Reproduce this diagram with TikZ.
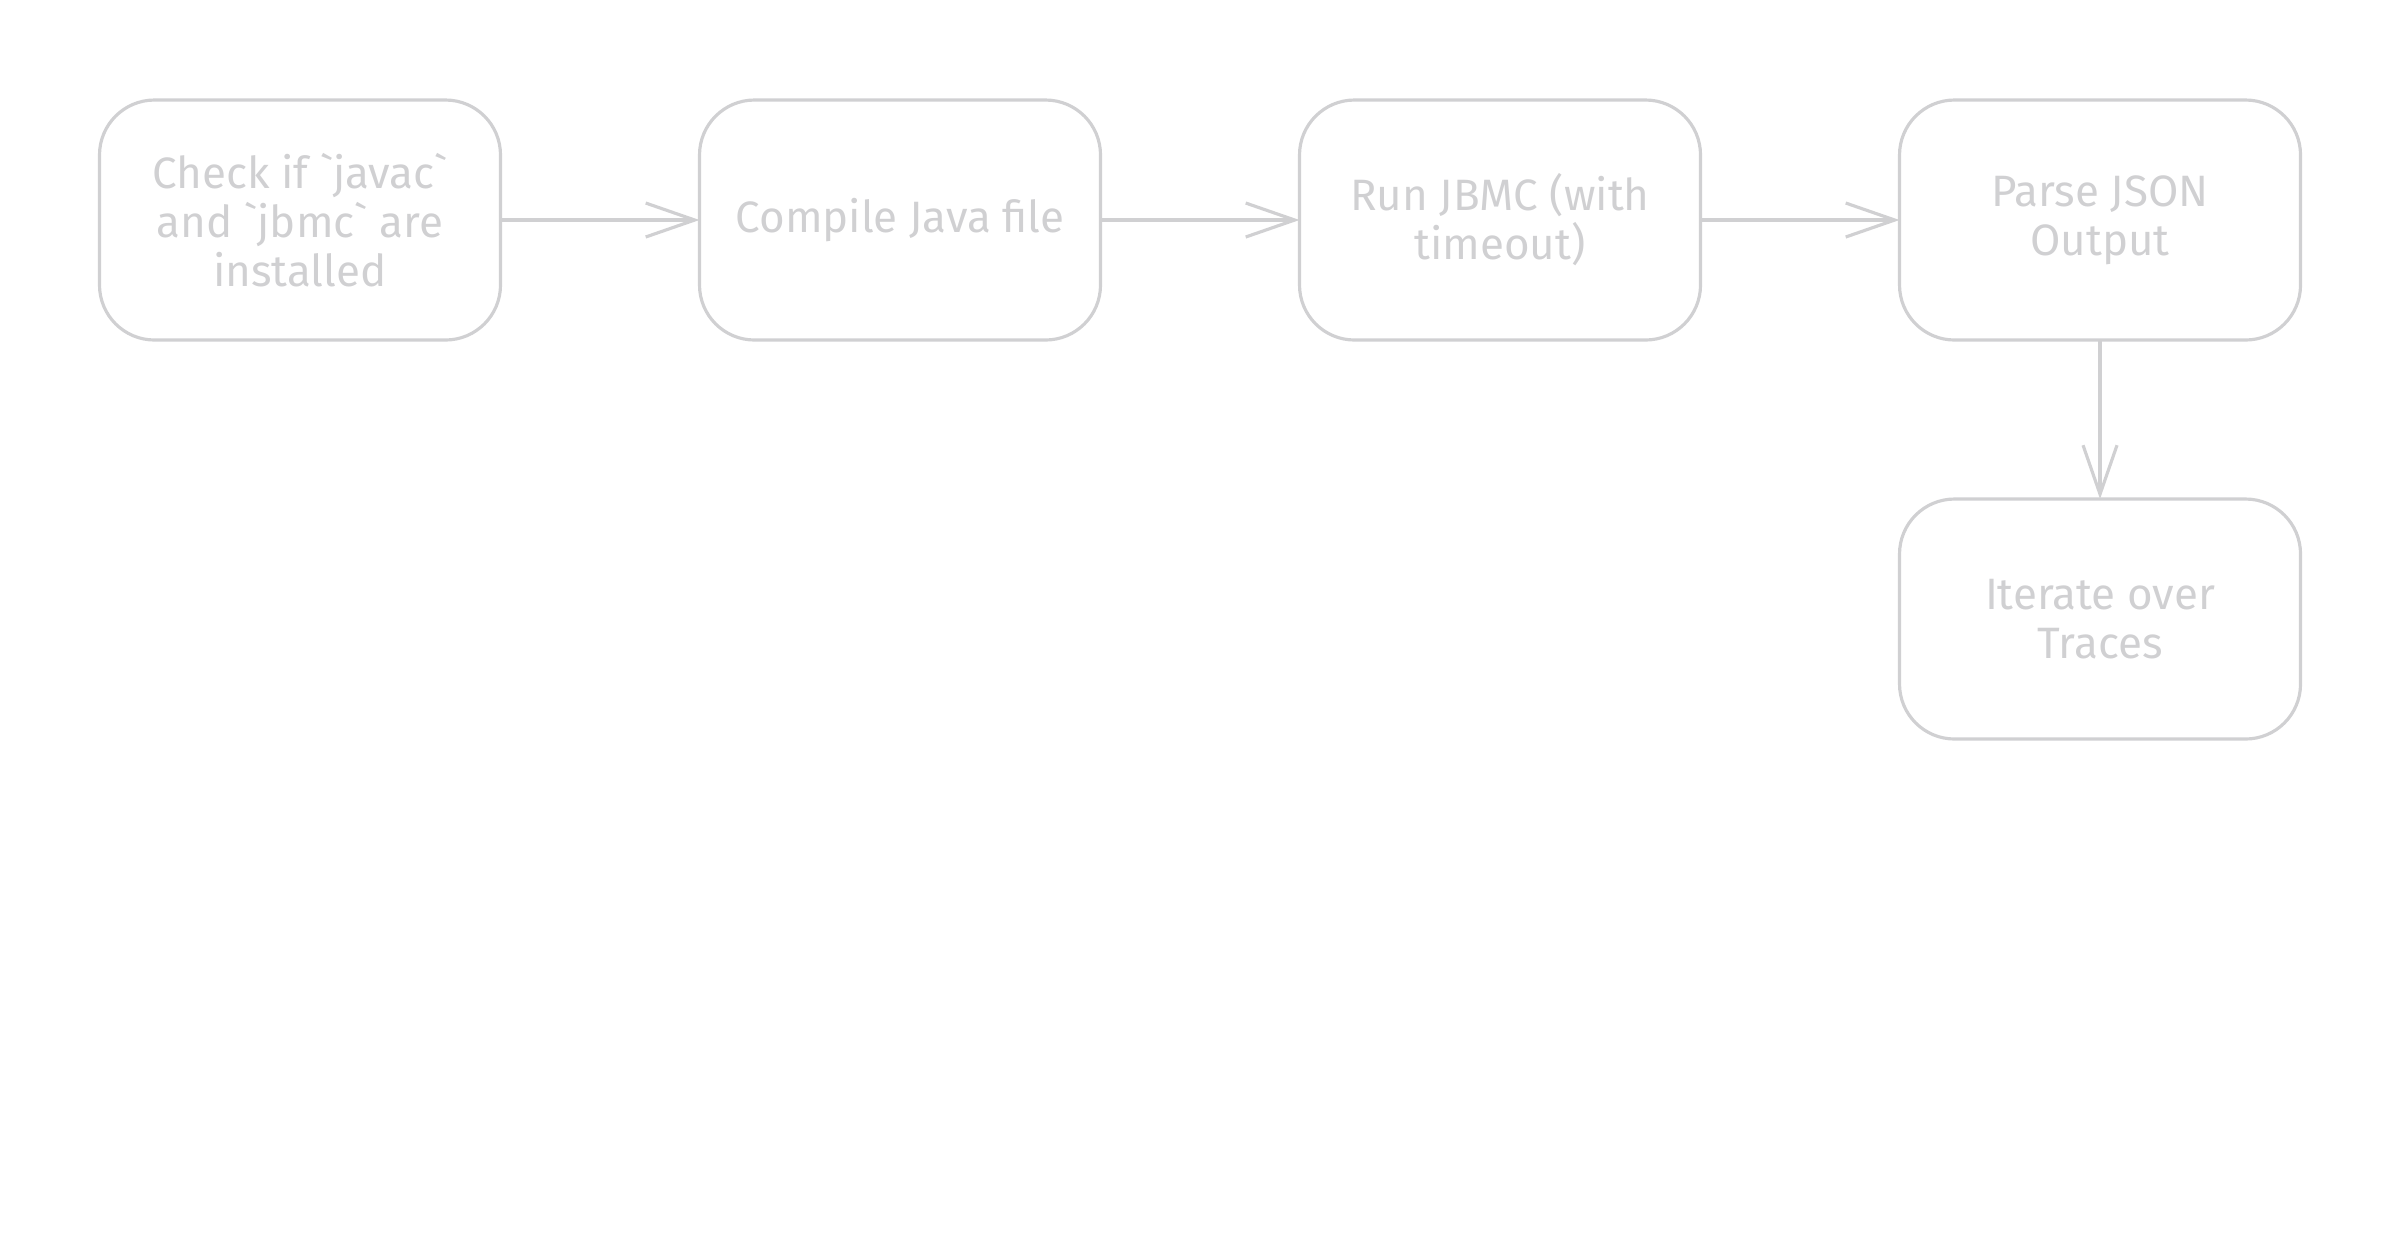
\documentclass[tikz,border=0pt]{standalone}
\usepackage{fontspec}
\setmainfont{Fira Sans}
\usetikzlibrary{positioning,arrows.meta}

\definecolor{sketchgray}{HTML}{D0D0D2}

\tikzset{
    stepbox/.style={draw=sketchgray, line width=0.9pt, rounded corners=0.55cm,
        minimum width=4.01cm, minimum height=2.4cm, inner sep=0pt, outer sep=0pt,
        align=center, text=sketchgray, font=\fontsize{12.5}{14}\selectfont},
    flow/.style={draw=sketchgray, line width=0.9pt,
        -{Straight Barb[length=0.49cm, width=0.34cm, line width=0.9pt]}}
}

\begin{document}
\begin{tikzpicture}
    \useasboundingbox (0,0) rectangle (24,-12.4);
    \node [stepbox] (check) at (3.0,-2.2) {Check if \textasciigrave javac\textasciigrave\\and \textasciigrave jbmc\textasciigrave{} are\\installed};
    \node [stepbox, right = 1.99cm of check] (compile) {Compile Java file};
    \node [stepbox, right = 1.99cm of compile] (jbmc) {Run JBMC (with\\timeout)};
    \node [stepbox, right = 1.99cm of jbmc] (parse) {Parse JSON\\Output};
    \node [stepbox, below = 1.59cm of parse] (traces) {Iterate over\\Traces};
    \draw [flow] (check) -- (compile);
    \draw [flow] (compile) -- (jbmc);
    \draw [flow] (jbmc) -- (parse);
    \draw [flow] (parse) -- (traces);
\end{tikzpicture}
\end{document}
